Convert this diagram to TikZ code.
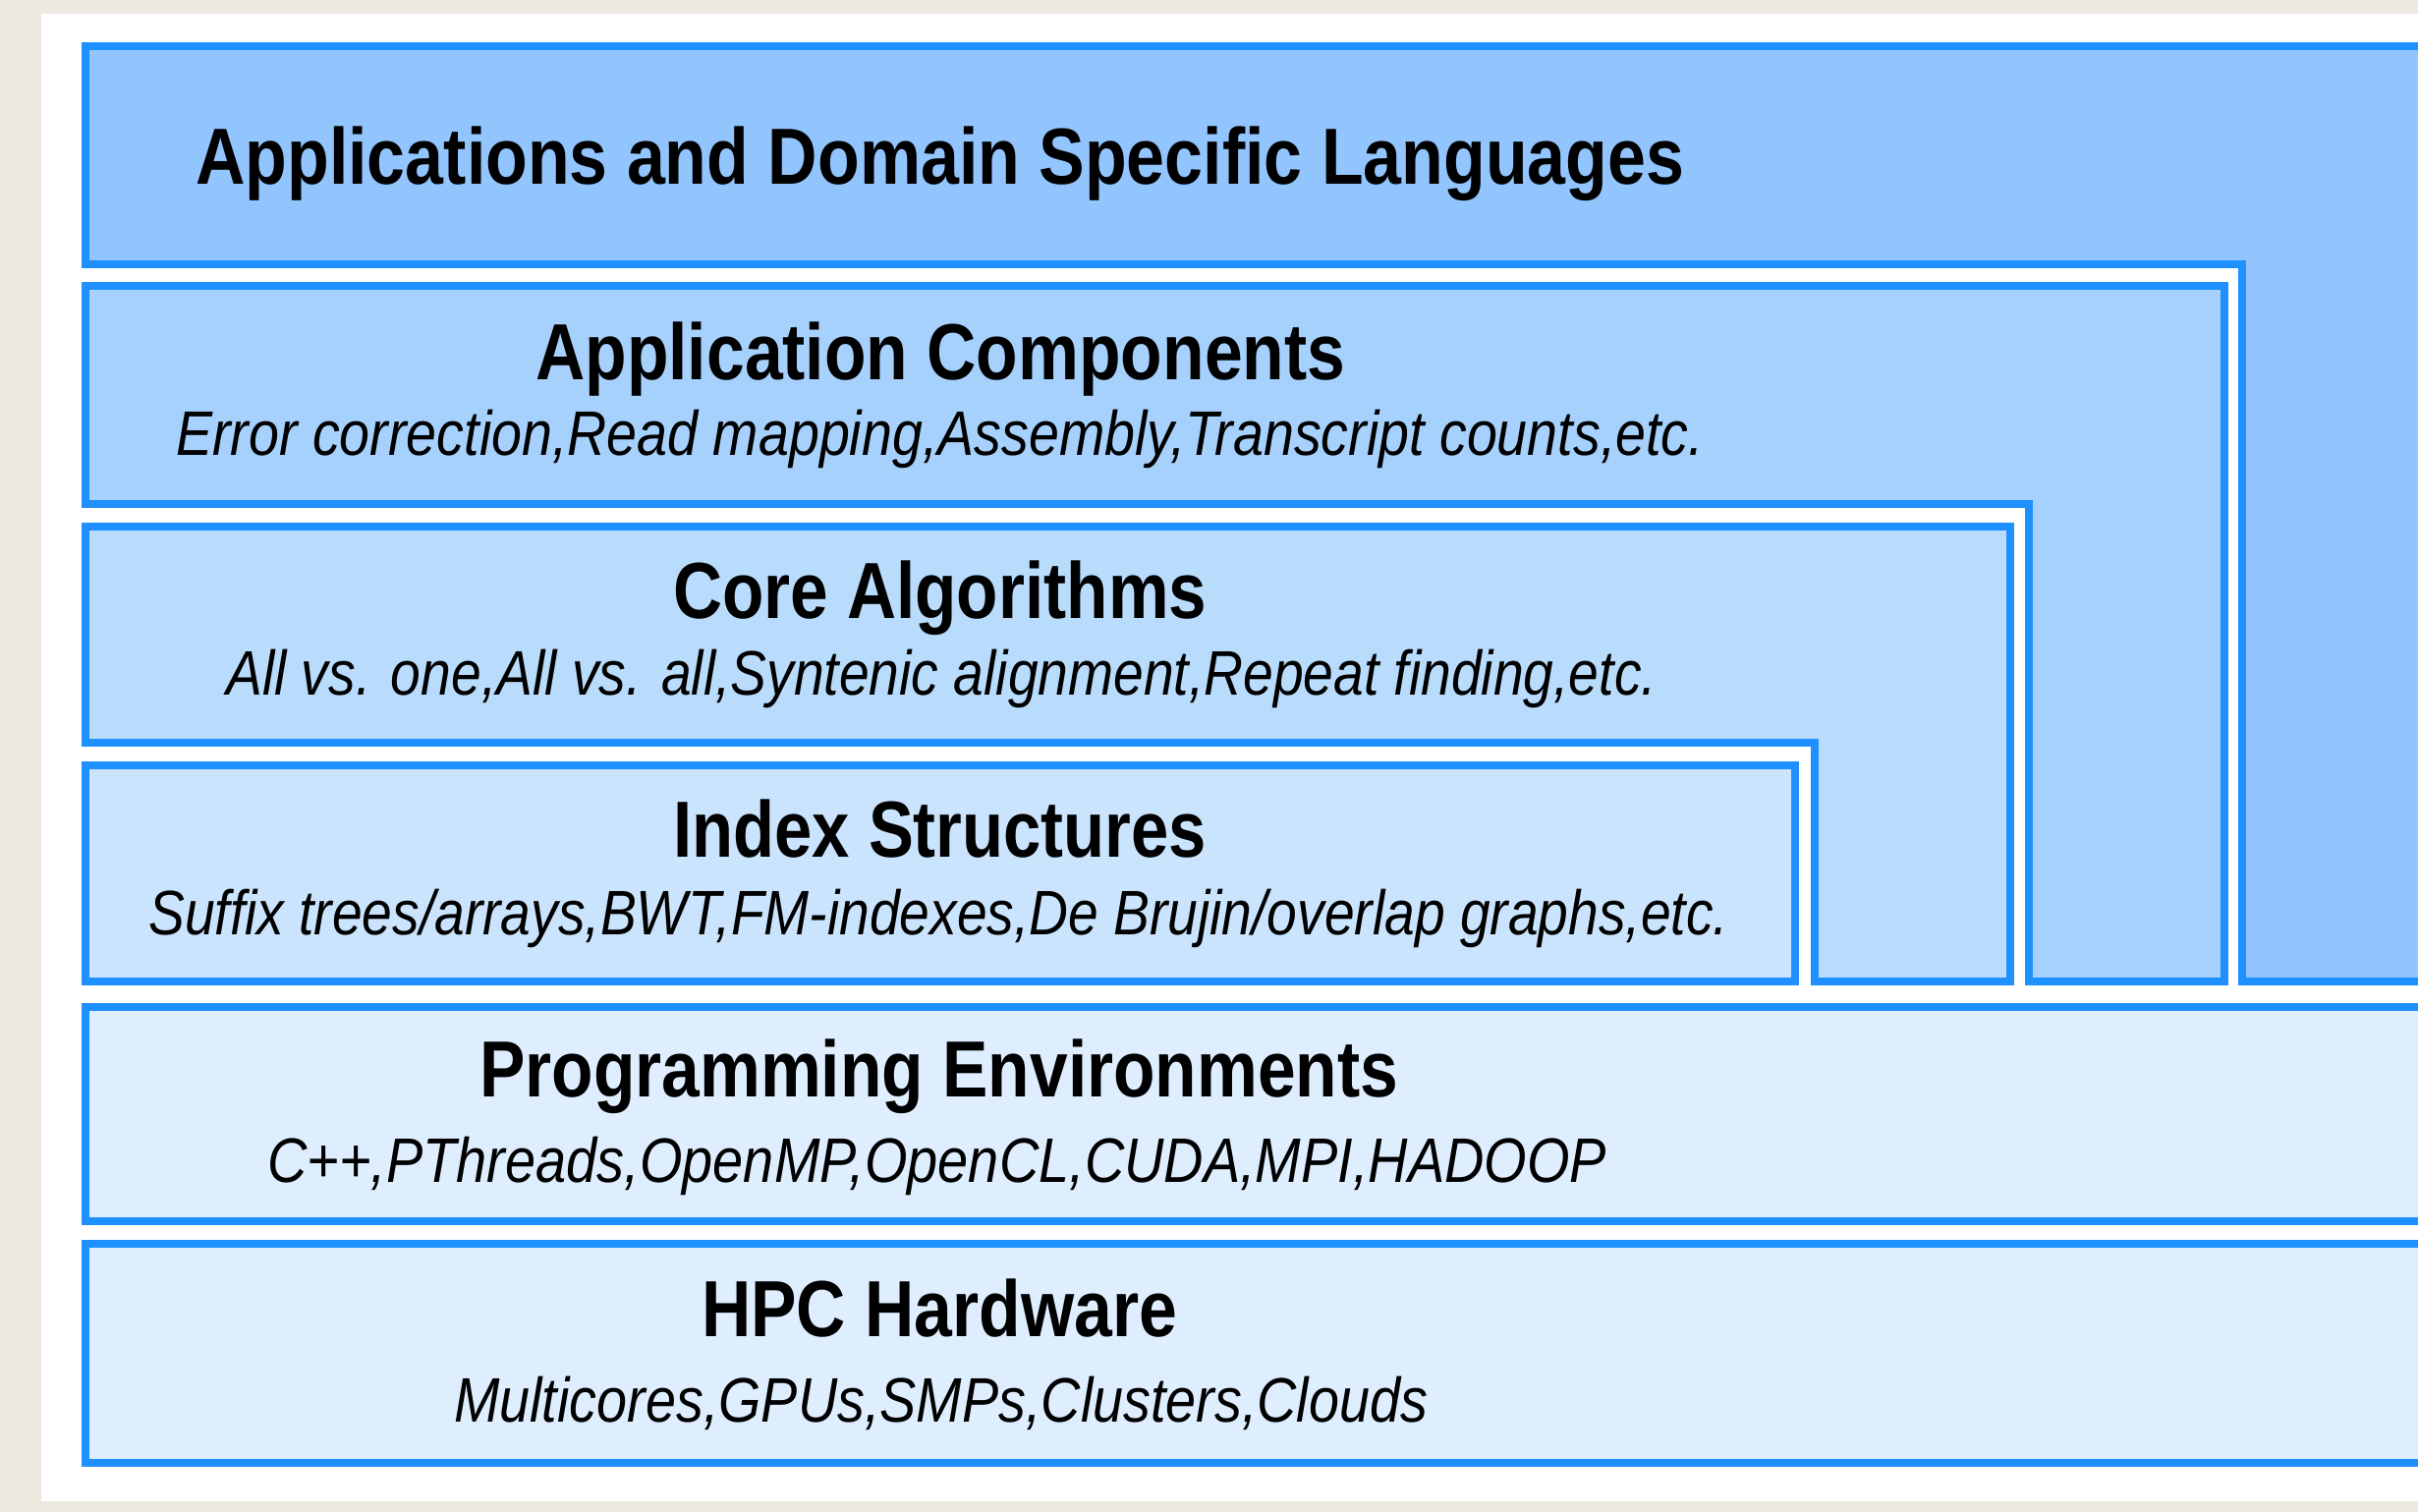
\documentclass[tikz,border=0pt]{standalone}
\usepackage{fontspec}
\setmainfont{Liberation Sans}
\usepackage{graphicx}
\definecolor{pagebg}{HTML}{ECEAE0}
\definecolor{bord}{HTML}{1E90FF}
\definecolor{fillA}{HTML}{92C4FD}
\definecolor{fillB}{HTML}{A7D1FD}
\definecolor{fillC}{HTML}{B9DCFD}
\definecolor{fillD}{HTML}{CBE4FD}
\definecolor{fillE}{HTML}{DEEEFE}
\newcommand{\fitto}[2]{\resizebox{#1pt}{\height}{#2}}
\tikzset{
  layer/.style={draw=bord, line width=8pt, line join=miter},
  ttl/.style={anchor=base west, inner sep=0pt, font=\fontsize{81}{81}\selectfont\bfseries},
  sub/.style={anchor=base west, inner sep=0pt, font=\fontsize{64}{64}\selectfont\itshape},
}
\begin{document}
\begin{tikzpicture}[x=1pt,y=-1pt]
\useasboundingbox (0,0) rectangle (2461,1539);
\clip (0,0) rectangle (2461,1539);
\fill[pagebg] (0,0) rectangle (2461,1539);
\fill[white] (42,14) rectangle (2480,1528);
% layers
\draw[layer, fill=fillA] (87,47) -- (2480,47) -- (2480,999) -- (2282,999) -- (2282,269) -- (87,269) -- cycle;
\draw[layer, fill=fillB] (87,291) -- (2264,291) -- (2264,999) -- (2065,999) -- (2065,513) -- (87,513) -- cycle;
\draw[layer, fill=fillC] (87,536) -- (2046,536) -- (2046,999) -- (1847,999) -- (1847,756) -- (87,756) -- cycle;
\draw[layer, fill=fillD] (87,779) rectangle (1827,999);
\draw[layer, fill=fillE] (87,1025) rectangle (2480,1243);
\draw[layer, fill=fillE] (87,1266) rectangle (2480,1489);
% texts
\node[ttl] (t1) at (199,187) {\fitto{1515}{Applications and Domain Specific Languages}};
\node[ttl] (t2) at (545,386) {\fitto{824}{Application Components}};
\node[sub] (s2) at (179,463) {\fitto{1555}{Error correction,Read mapping,Assembly,Transcript counts,etc.}};
\node[ttl] (t3) at (685,629) {\fitto{543}{Core Algorithms}};
\node[sub] (s3) at (230,707) {\fitto{1456}{All vs. one,All vs. all,Syntenic alignment,Repeat finding,etc.}};
\node[ttl] (t4) at (685,872) {\fitto{543}{Index Structures}};
\node[sub] (s4) at (151,951) {\fitto{1608}{Suffix trees/arrays,BWT,FM-indexes,De Brujin/overlap graphs,etc.}};
\node[ttl] (t5) at (488,1116) {\fitto{935}{Programming Environments}};
\node[sub] (s5) at (272,1203) {\fitto{1363}{C++,PThreads,OpenMP,OpenCL,CUDA,MPI,HADOOP}};
\node[ttl] (t6) at (714,1360) {\fitto{484}{HPC Hardware}};
\node[sub] (s6) at (462,1447) {\fitto{991}{Multicores,GPUs,SMPs,Clusters,Clouds}};
\end{tikzpicture}
\end{document}
